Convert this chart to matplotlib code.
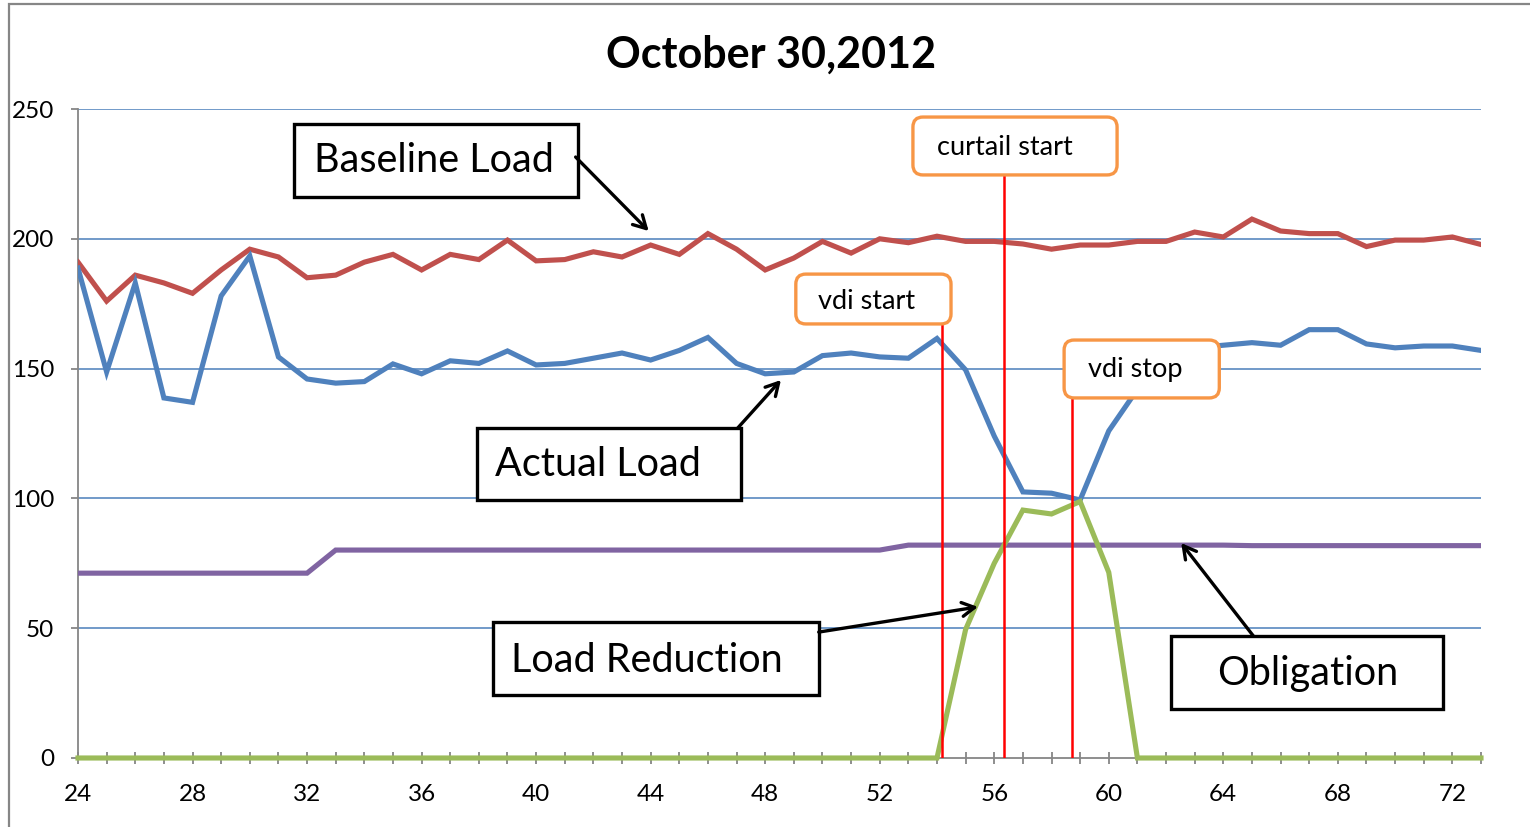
import matplotlib
matplotlib.use("Agg")
import matplotlib.pyplot as plt
from matplotlib.patches import Rectangle, FancyBboxPatch
from matplotlib.ticker import MultipleLocator

plt.rcParams['font.family'] = ['Lato', 'DejaVu Sans']

# ---- data ----
hours = list(range(24, 74))
baseline = [191, 176, 186, 183, 179, 188, 196, 193, 185, 186,
            191, 194, 188, 194, 192, 199.5, 191.5, 192, 195, 193,
            197.6, 194, 202, 196, 188, 192.6, 199, 194.5, 200, 198.5,
            201, 199, 199, 198, 196, 197.6, 197.6, 199, 199, 202.6,
            200.7, 207.6, 203, 202, 202, 197, 199.5, 199.5, 200.7, 197.8]
actual = [188.7, 148.7, 183, 138.7, 137, 178, 193.4, 154.5, 146, 144.4,
          145, 151.8, 148, 153, 152, 156.8, 151.4, 152, 154, 156,
          153.3, 157, 162, 152, 148, 148.7, 155, 156, 154.5, 154,
          161.6, 149.5, 124, 102.5, 102, 99.4, 126, 142, 153, 158,
          159, 160, 159, 165, 165, 159.5, 158, 158.7, 158.7, 157]
reduction = [0] * 31 + [49.5, 75, 95.5, 94, 98.8, 71.5] + [0] * 13
obligation = [71.2] * 9 + [80.1] * 20 + [82] * 12 + [81.8] * 9
event_x = [54.17, 56.33, 58.72]
event_top = [167.2, 224.6, 138.7]
y_ticks = [0, 50, 100, 150, 200, 250]
title = "October 30,2012"

# ---- figure ----
W, H = 1530, 827
fig = plt.figure(figsize=(W / 100, H / 100), dpi=100)
ax = fig.add_axes([78 / W, 1 - 758 / H, (1481 - 78) / W, (758 - 109) / H])

# outer chart border
fig.patches.append(Rectangle((9 / W, -0.2), 1.5, 1.2 - 4 / H, transform=fig.transFigure,
                             fill=False, edgecolor='#868686', linewidth=1.6))

ax.set_xlim(24, 73)
ax.set_ylim(0, 250)
ax.set_yticks(y_ticks)
for v in y_ticks[1:]:
    ax.axhline(v, color='#4A7EBB', linewidth=1.1, zorder=1)

lw = 3.7
ax.plot(hours, baseline, color='#C0504D', linewidth=lw, zorder=3, solid_joinstyle='miter')
ax.plot(hours, actual, color='#4F81BD', linewidth=lw, zorder=3, solid_joinstyle='miter')
ax.plot(hours, obligation, color='#8064A2', linewidth=lw, zorder=3, solid_joinstyle='miter')
ax.plot(hours, reduction, color='#9BBB59', linewidth=lw, zorder=4, solid_joinstyle='miter',
        clip_on=False)

for xv, yt in zip(event_x, event_top):
    ax.plot([xv, xv], [0, yt], color='#FF0000', linewidth=1.8, zorder=5)

for s in ['top', 'right']:
    ax.spines[s].set_visible(False)
for s in ['left', 'bottom']:
    ax.spines[s].set_color('#868686')
    ax.spines[s].set_linewidth(1.3)

ax.xaxis.set_major_locator(MultipleLocator(4))
ax.xaxis.set_minor_locator(MultipleLocator(1))
ax.tick_params(axis='x', which='both', direction='inout', length=9, width=1.3,
               color='#868686', labelsize=17.5, pad=14)
ax.tick_params(axis='y', direction='out', length=5, width=1.3, color='#868686',
               labelsize=17.5, pad=12)

fig.text(771 / W, 1 - 55 / H, title, ha='center', va='center', fontsize=31,
         fontweight='bold')

# ---- black callout boxes ----
def black_box(x0, x1, y0, y1, label, tx, ty, a_from, a_to):
    ax.add_patch(Rectangle((x0, y0), x1 - x0, y1 - y0, fill=True, facecolor='white',
                           edgecolor='black', linewidth=2.4, zorder=6, clip_on=False))
    ax.text(tx, ty, label, ha='center', va='center', fontsize=28.5, zorder=7)
    ax.annotate('', xy=a_to, xytext=a_from,
                arrowprops=dict(arrowstyle='->,head_length=0.9,head_width=0.5',
                                color='black', linewidth=2.4, shrinkA=0, shrinkB=0),
                zorder=7, annotation_clip=False)

black_box(31.55, 41.48, 216.1, 244.2, 'Baseline Load', 36.42, 230,
          (41.38, 231.5), (43.93, 203.0))
black_box(37.92, 47.15, 99.4, 127.1, 'Actual Load', 42.15, 112.9,
          (47.04, 127.1), (48.55, 145.6))
black_box(38.48, 49.87, 24.3, 52.4, 'Load Reduction', 43.86, 37.7,
          (49.87, 48.5), (55.43, 58.2))
black_box(62.18, 71.69, 18.9, 47.0, 'Obligation', 66.94, 32.4,
          (65.05, 47.0), (62.53, 82.8))

# ---- orange rounded boxes ----
px_x = (1481 - 78) / 49.0
px_y = (758 - 109) / 250.0

def orange_box(x0, x1, y0, y1, label, tx, ty):
    ax.add_patch(FancyBboxPatch((x0, y0), x1 - x0, y1 - y0,
                                boxstyle='round,pad=0,rounding_size=%f' % (10 / px_x),
                                mutation_aspect=px_x / px_y,
                                facecolor='white', edgecolor='#F79646', linewidth=2.4,
                                zorder=8, clip_on=False))
    ax.text(tx, ty, label, ha='center', va='center', fontsize=19.5, zorder=9)

orange_box(53.16, 60.29, 224.6, 246.9, 'curtail start', 56.38, 235)
orange_box(49.07, 54.49, 167.2, 186.4, 'vdi start', 51.55, 176.0)
orange_box(58.44, 63.86, 138.7, 161.0, 'vdi stop', 60.92, 149.5)

fig.savefig('out.png', dpi=100)
